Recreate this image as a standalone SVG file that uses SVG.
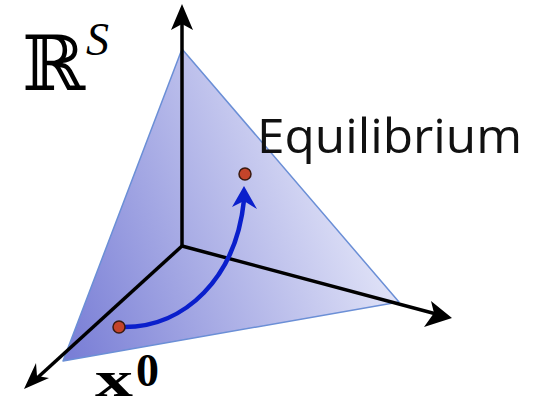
<svg xmlns="http://www.w3.org/2000/svg" width="533" height="408" viewBox="0 0 533 408">
<defs>
<linearGradient id="tri" gradientUnits="userSpaceOnUse" x1="63" y1="330" x2="400" y2="200">
<stop offset="0" stop-color="#7a7fd6"/>
<stop offset="1" stop-color="#eceefb"/>
</linearGradient>
</defs>
<style>
.ax{stroke:#000;stroke-width:3.5;fill:none}
.head{fill:#000}
.dot{fill:#c4442a;stroke:#3a1a10;stroke-width:1.5}
</style>
<g id="simplex">
<polygon points="182,49 63,361 399,302" fill="url(#tri)" stroke="#6b8fd6" stroke-width="1.5" stroke-linejoin="round"/>
</g>
<g id="connectors">
<line class="ax" x1="182" y1="246" x2="182" y2="18"/>
<path class="head" d="M182,4 L193,30 L182,24 L171,30 Z"/>
<line class="ax" x1="182" y1="246" x2="35" y2="380"/>
<path class="head" d="M24,389 L36,363 L37,376 L49,378 Z"/>
<line class="ax" x1="182" y1="246" x2="440" y2="315"/>
<path class="head" d="M452,318 L424,327 L434,313 L431,301 Z"/>
<path d="M124,327 C185,327 236,278 244,200" stroke="#0a1fcc" stroke-width="4.5" fill="none"/>
<path d="M244,186 L257,209 L244,201 L232,207 Z" fill="#0a1fcc"/>
</g>
<g id="start">
<circle class="dot" cx="119" cy="327" r="6"/>
</g>
<g id="equilibrium">
<circle class="dot" cx="245" cy="174" r="6"/>
<text x="257" y="153" font-family="Open Sans, Liberation Sans, sans-serif" font-size="48" fill="#111" textLength="265" lengthAdjust="spacingAndGlyphs">Equilibrium</text>
</g>
<g id="space-label">
<text x="22" y="90" font-family="DejaVu Serif, serif" font-size="76" fill="#000">ℝ</text>
<text x="86" y="55" font-family="Liberation Serif, serif" font-style="italic" font-size="46" fill="#000">S</text>
</g>
<g id="x0-label">
<text x="95" y="396" font-family="Liberation Serif, serif" font-weight="bold" font-size="50" fill="#000" textLength="38" lengthAdjust="spacingAndGlyphs">x</text>
<text x="136" y="386" font-family="Liberation Serif, serif" font-weight="bold" font-size="46" fill="#000">0</text>
</g>
</svg>
